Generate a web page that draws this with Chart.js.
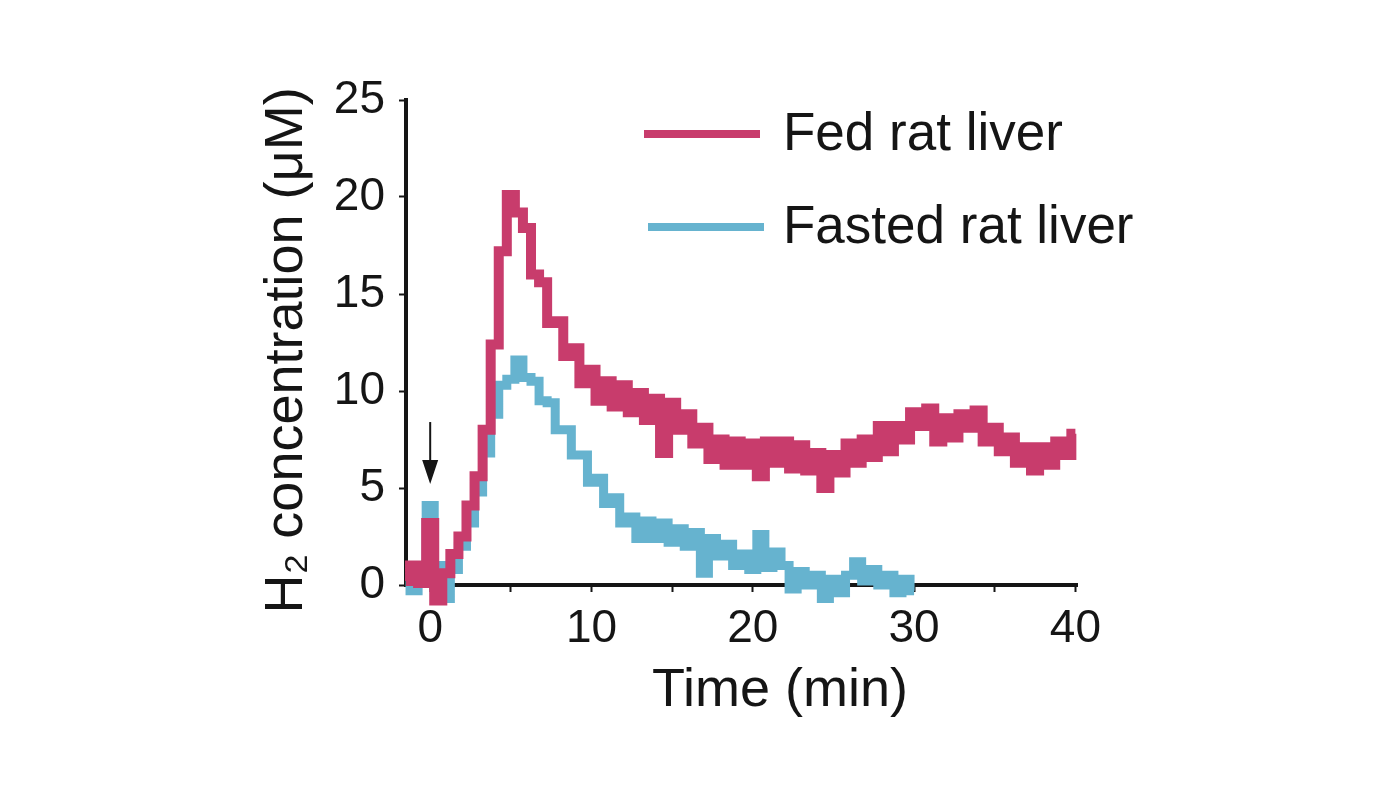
<!DOCTYPE html>
<html lang="en">
<head>
    <meta charset="UTF-8">
    <title>H2 concentration in rat liver</title>
    <script src="https://cdn.jsdelivr.net/npm/chart.js"></script>
    <style>
        html, body { margin: 0; padding: 0; background: #fff; }
        #wrap { width: 1400px; height: 800px; }
    </style>
</head>
<body>
    <div id="wrap"><canvas id="h2Chart" width="1400" height="800"></canvas></div>
    <script>
        // sampling times (min)
        const minutes = [
            -1.5, -1, -0.5, 0, 0.5, 1, 1.5, 2, 2.5, 3, 3.5, 4, 4.5, 5, 5.5, 6, 6.5, 7, 7.5, 8,
            8.5, 9, 9.5, 10, 10.5, 11, 11.5, 12, 12.5, 13, 13.5, 14, 14.5, 15, 15.5, 16, 16.5, 17, 17.5, 18,
            18.5, 19, 19.5, 20, 20.5, 21, 21.5, 22, 22.5, 23, 23.5, 24, 24.5, 25, 25.5, 26, 26.5, 27, 27.5, 28,
            28.5, 29, 29.5, 30, 30.5, 31, 31.5, 32, 32.5, 33, 33.5, 34, 34.5, 35, 35.5, 36, 36.5, 37, 37.5, 38,
            38.5, 39, 39.5, 40
        ];

        // H2 concentration (uM)
        const fedLiver = [
            0.2, 1.0, 0.1, 3.2, -0.8, 0.6, 1.6, 2.5, 4.1, 5.6, 8.0, 12.4, 17.2, 20.1, 19.2, 18.4, 16.0, 15.6, 13.5, 13.6,
            11.8, 12.2, 10.4, 11.1, 9.5, 10.5, 9.2, 10.3, 8.9, 9.9, 8.5, 9.6, 6.8, 9.4, 8.0, 8.8, 7.3, 8.1, 6.5, 7.5,
            6.2, 7.4, 6.2, 7.3, 5.6, 7.4, 6.3, 7.4, 6.0, 7.2, 5.9, 6.8, 5.0, 6.7, 5.8, 7.3, 6.3, 7.5, 6.6, 8.2,
            6.9, 8.2, 7.5, 8.9, 8.2, 9.1, 7.4, 8.6, 7.6, 8.8, 8.1, 9.0, 7.4, 8.1, 6.9, 7.6, 6.3, 7.1, 5.9, 7.1,
            6.2, 7.4, 6.7, 7.8
        ];
        const fastedLiver = [
            0.4, -0.3, 0.7, 4.1, 1.0, -0.7, 0.8, 2.0, 3.2, 4.8, 6.8, 8.8, 10.3, 10.6, 11.6, 10.7, 10.5, 9.5, 9.4, 8.0,
            8.0, 6.7, 6.7, 5.3, 5.5, 4.2, 4.5, 3.2, 3.5, 2.4, 3.3, 2.4, 3.2, 2.2, 2.9, 2.0, 2.7, 0.6, 2.4, 1.5,
            2.1, 1.0, 1.6, 0.8, 2.6, 0.9, 1.7, 1.0, -0.2, 0.7, 0.0, 0.5, -0.7, 0.3, -0.4, 0.5, 1.2, 0.2, 0.8, 0.0,
            0.5, -0.4, 0.3, -0.3
        ];

        const seriesNames = ['Fed rat liver', 'Fasted rat liver'];
        const seriesColors = ['#c83c6c', '#66b3cf'];
        const timeTicks = [0, 5, 10, 15, 20, 25, 30, 35, 40];
        const timeLabels = ['0', '', '10', '', '20', '', '30', '', '40'];
        const h2Ticks = [0, 5, 10, 15, 20, 25];
        const xTitle = 'Time (min)';
        const yTitle = 'H₂ concentration (μM)';

        const FONT = "'Liberation Sans', Arial, sans-serif";
        const INK = '#151515';

        // axis titles, injection arrow at t = 0 and the legend
        const overlay = {
            id: 'overlay',
            afterDraw(chart) {
                const { ctx, chartArea, scales } = chart;
                ctx.save();

                ctx.fillStyle = INK;
                ctx.font = '54px ' + FONT;
                ctx.textAlign = 'center';
                ctx.textBaseline = 'alphabetic';
                ctx.fillText(xTitle, chartArea.left + 374, 706);

                ctx.save();
                ctx.translate(302, (chartArea.top + chartArea.bottom) / 2 + 8);
                ctx.rotate(-Math.PI / 2);
                ctx.fillText(yTitle, 0, 0);
                ctx.restore();

                const ax = scales.x.getPixelForValue(0);
                const yTop = scales.y.getPixelForValue(8.4);
                const yTip = scales.y.getPixelForValue(5.2);
                ctx.strokeStyle = INK;
                ctx.lineWidth = 2;
                ctx.beginPath();
                ctx.moveTo(ax, yTop);
                ctx.lineTo(ax, yTip - 20);
                ctx.stroke();
                ctx.beginPath();
                ctx.moveTo(ax - 8, yTip - 24);
                ctx.lineTo(ax + 8, yTip - 24);
                ctx.lineTo(ax, yTip);
                ctx.closePath();
                ctx.fill();

                // legend
                const lx = chartArea.left + 238;
                const rows = [34, 127];
                ctx.font = '53px ' + FONT;
                ctx.textBaseline = 'middle';
                ctx.textAlign = 'left';
                seriesNames.forEach((name, i) => {
                    const ly = chartArea.top + rows[i];
                    ctx.strokeStyle = seriesColors[i];
                    ctx.lineWidth = 8;
                    ctx.beginPath();
                    ctx.moveTo(lx + i * 4, ly);
                    ctx.lineTo(lx + 116 + i * 4, ly);
                    ctx.stroke();
                    ctx.fillStyle = INK;
                    ctx.fillText(name, lx + 139, ly + 1);
                });
                ctx.restore();
            }
        };

        const ctx = document.getElementById('h2Chart').getContext('2d');

        new Chart(ctx, {
            type: 'line',
            data: {
                datasets: [
                    {
                        label: seriesNames[0],
                        data: minutes.map((t, i) => ({ x: t, y: fedLiver[i] })),
                        borderColor: seriesColors[0],
                        borderWidth: 10,
                        stepped: 'middle',
                        pointRadius: 0,
                        clip: false
                    },
                    {
                        label: seriesNames[1],
                        data: fastedLiver.map((v, i) => ({ x: minutes[i], y: v })),
                        borderColor: seriesColors[1],
                        borderWidth: 9,
                        stepped: 'middle',
                        pointRadius: 0,
                        clip: false
                    }
                ]
            },
            options: {
                responsive: false,
                animation: false,
                layout: { padding: { left: 0, top: 100, right: 323, bottom: 0 } },
                plugins: {
                    legend: { display: false },
                    tooltip: { enabled: false }
                },
                scales: {
                    x: {
                        type: 'linear',
                        min: -1.5,
                        max: 40.1,
                        afterFit: (scale) => { scale.height = 215; },
                        afterBuildTicks: (scale) => { scale.ticks = timeTicks.map(v => ({ value: v })); },
                        grid: { display: true, drawOnChartArea: false, drawTicks: true, tickLength: 7, tickWidth: 2, tickColor: INK },
                        border: { display: true, width: 4, color: INK },
                        ticks: {
                            autoSkip: false,
                            maxRotation: 0,
                            padding: 10,
                            color: INK,
                            font: { family: FONT, size: 46 },
                            callback: (v) => timeLabels[timeTicks.indexOf(v)]
                        }
                    },
                    y: {
                        min: 0,
                        max: 25,
                        afterFit: (scale) => { scale.width = 406; },
                        afterBuildTicks: (scale) => { scale.ticks = h2Ticks.map(v => ({ value: v })); },
                        grid: { display: true, drawOnChartArea: false, drawTicks: true, tickLength: 7, tickWidth: 2, tickColor: INK },
                        border: { display: true, width: 4, color: INK },
                        ticks: {
                            padding: 14,
                            color: INK,
                            font: { family: FONT, size: 46 }
                        }
                    }
                }
            },
            plugins: [overlay]
        });
    </script>
</body>
</html>
